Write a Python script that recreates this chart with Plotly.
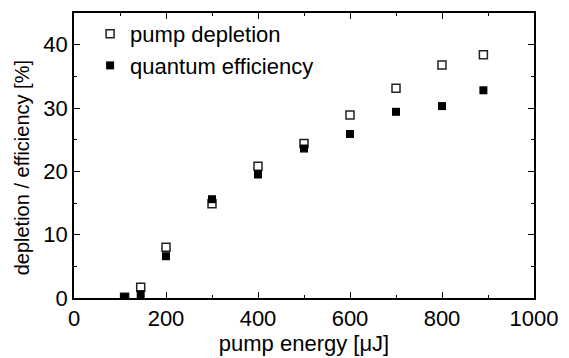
import plotly.graph_objects as go

energy = [110, 145, 200, 300, 400, 500, 600, 700, 800, 890]
pump_depletion = [0.1, 1.7, 8.0, 14.9, 20.8, 24.4, 28.9, 33.1, 36.8, 38.4]
quantum_efficiency = [0.1, 0.6, 6.6, 15.6, 19.5, 23.6, 25.9, 29.4, 30.3, 32.8]

x_ticks = [0, 200, 400, 600, 800, 1000]
y_ticks = [0, 10, 20, 30, 40]

FONT = "Liberation Sans, Arial, sans-serif"

fig = go.Figure()
fig.add_trace(go.Scatter(
    x=energy, y=pump_depletion, mode="markers", name="pump depletion",
    marker=dict(symbol="square-open", size=8, color="#222222", line=dict(width=1.5)),
))
fig.add_trace(go.Scatter(
    x=energy, y=quantum_efficiency, mode="markers", name="quantum efficiency",
    marker=dict(symbol="square", size=8, color="black"),
))

axis_common = dict(
    showgrid=False, zeroline=False, showline=True, linecolor="black", linewidth=1.5,
    mirror="allticks", ticks="inside", ticklen=6, tickwidth=1.2, tickcolor="black",
    tickfont=dict(family=FONT, size=22, color="black"),
)

fig.update_xaxes(
    range=[0, 1000], tickvals=x_ticks,
    title=dict(text="pump energy [μJ]", font=dict(family=FONT, size=22, color="black"), standoff=0),
    minor=dict(ticks="inside", ticklen=3, tickwidth=1, tickcolor="black", dtick=100, showgrid=False),
    **axis_common,
)
fig.update_yaxes(
    range=[0, 45], tickvals=y_ticks,
    minor=dict(ticks="inside", ticklen=3, tickwidth=1, tickcolor="black", dtick=5, showgrid=False),
    **axis_common,
)

fig.add_annotation(
    text="depletion / efficiency [%]", textangle=-90,
    xref="paper", yref="paper", x=-0.113, y=0.455, xanchor="center", yanchor="middle",
    showarrow=False, font=dict(family=FONT, size=20, color="black"),
)

fig.update_layout(
    width=569, height=358,
    margin=dict(l=74, r=26, t=11, b=59),
    paper_bgcolor="white", plot_bgcolor="white",
    showlegend=True,
    legend=dict(x=0.035, y=1.0, xanchor="left", yanchor="top",
                bgcolor="rgba(0,0,0,0)", font=dict(family=FONT, size=22, color="black"),
                tracegroupgap=0, itemsizing="trace"),
)

fig.write_html("out.html")
